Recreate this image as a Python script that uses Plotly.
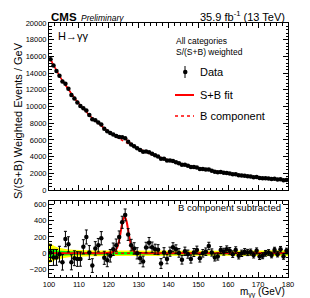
import plotly.graph_objects as go

# ---------------- data ----------------
mass = [100.5 + i for i in range(80)]  # bin centres, 1 GeV bins

bkg = [15650, 14950, 14300, 13680, 13100, 12540, 12010, 11500, 11020, 10560,
       10130, 9720, 9330, 8960, 8610, 8280, 7970, 7670, 7390, 7120,
       6860, 6610, 6380, 6150, 5940, 5740, 5550, 5360, 5180, 5010,
       4850, 4690, 4545, 4396, 4252, 4115, 3982, 3854, 3732, 3614,
       3501, 3393, 3288, 3188, 3090, 2997, 2907, 2820, 2736, 2656,
       2579, 2503, 2431, 2361, 2294, 2229, 2167, 2106, 2048, 1991,
       1936, 1884, 1833, 1784, 1736, 1690, 1645, 1602, 1560, 1519,
       1479, 1441, 1405, 1369, 1335, 1301, 1268, 1237, 1207, 1177]

resid = [10, -50, -50, -10, -110, 175, 110, -110, -60, -70,
         -70, 80, 200, 10, -150, 60, 100, 185, -55, -85,
         -30, 50, 100, 200, 380, 470, 230, 100, 60, 0,
         -60, -100, 70, 130, 75, 50, 45, -125, 10, -70,
         20, 75, 50, 5, -80, 25, -10, -70, 10, 40,
         -60, 0, 20, 90, 10, -50, -40, 40, 20, 50,
         30, -10, 40, -30, 0, 20, 10, 15, -20, 30,
         -40, -30, 0, 10, -20, 40, -10, 50, -40, 30]

err = [100, 98, 97, 96, 95, 94, 93, 92, 91, 90,
       88, 87, 86, 85, 84, 83, 82, 81, 80, 79,
       77, 76, 75, 74, 74, 73, 72, 71, 70, 69,
       67, 66, 65, 64, 63, 62, 61, 60, 59, 58,
       56, 55, 54, 53, 52, 51, 50, 50, 49, 48,
       47, 46, 46, 45, 44, 44, 43, 42, 42, 41,
       41, 40, 40, 39, 39, 38, 38, 37, 37, 36,
       36, 36, 35, 35, 35, 34, 34, 34, 33, 33]

sig_x = [118, 118.5, 119, 119.5, 120, 120.5, 121, 121.5, 122, 122.5, 123, 123.5,
         124, 124.5, 125, 125.5, 126, 126.5, 127, 127.5, 128, 128.5, 129, 129.5,
         130, 131, 132, 134]
sig_y = [2, 3, 4, 5, 7, 9, 12, 18, 30, 50, 88, 160,
         260, 365, 435, 438, 385, 283, 178, 97, 48, 25, 14, 9,
         6, 4, 2, 0]

band_x = [100, 101, 102, 103, 104, 106, 108, 110, 115, 120, 130, 140, 150, 160, 170, 180]
band_1s = [60, 50, 42, 35, 30, 25, 21, 19, 17, 16, 15, 15, 15, 15, 16, 18]
band_2s = [125, 102, 85, 72, 62, 50, 43, 39, 35, 33, 31, 31, 31, 31, 33, 37]

top_yticks = [0, 2000, 4000, 6000, 8000, 10000, 12000, 14000, 16000, 18000, 20000]
bot_yticks = [-200, 0, 200, 400, 600]
xticks = [100, 110, 120, 130, 140, 150, 160, 170, 180]

# ---------------- derived ----------------
data_top = [b + r for b, r in zip(bkg, resid)]
sig_map = dict(zip(sig_x, sig_y))
sb_top = [b + sig_map.get(m, 0) for m, b in zip(mass, bkg)]
sub_x = [100] + sig_x + [180]
sub_y = [0] + sig_y + [0]

FONT = "Liberation Sans, Arial, Helvetica, sans-serif"
RED = "#ff0000"

fig = go.Figure()

# top panel
fig.add_trace(go.Scatter(x=mass, y=bkg, mode="lines",
                         line=dict(color=RED, width=1.5, dash="dot"),
                         xaxis="x", yaxis="y", showlegend=False))
fig.add_trace(go.Scatter(x=mass, y=sb_top, mode="lines",
                         line=dict(color=RED, width=1.5),
                         xaxis="x", yaxis="y", showlegend=False))
fig.add_trace(go.Scatter(x=mass, y=data_top, mode="markers",
                         marker=dict(color="black", size=4.5),
                         error_y=dict(type="data", array=err, color="black",
                                      thickness=1, width=0),
                         xaxis="x", yaxis="y", showlegend=False))

# bottom panel bands
fig.add_trace(go.Scatter(x=band_x, y=band_2s, mode="lines", line=dict(width=0),
                         xaxis="x2", yaxis="y2", showlegend=False))
fig.add_trace(go.Scatter(x=band_x, y=[-v for v in band_2s], mode="lines",
                         line=dict(width=0), fill="tonexty", fillcolor="#ffff00",
                         xaxis="x2", yaxis="y2", showlegend=False))
fig.add_trace(go.Scatter(x=band_x, y=band_1s, mode="lines", line=dict(width=0),
                         xaxis="x2", yaxis="y2", showlegend=False))
fig.add_trace(go.Scatter(x=band_x, y=[-v for v in band_1s], mode="lines",
                         line=dict(width=0), fill="tonexty", fillcolor="#00ff00",
                         xaxis="x2", yaxis="y2", showlegend=False))
fig.add_trace(go.Scatter(x=[100, 180], y=[0, 0], mode="lines",
                         line=dict(color=RED, width=1.5, dash="dot"),
                         xaxis="x2", yaxis="y2", showlegend=False))
fig.add_trace(go.Scatter(x=sub_x, y=sub_y, mode="lines",
                         line=dict(color=RED, width=2, shape="spline"),
                         xaxis="x2", yaxis="y2", showlegend=False))
fig.add_trace(go.Scatter(x=mass, y=resid, mode="markers",
                         marker=dict(color="black", size=4.5),
                         error_y=dict(type="data", array=err, color="black",
                                      thickness=1, width=1.5),
                         xaxis="x2", yaxis="y2", showlegend=False))

axis_common = dict(showline=True, linecolor="black", linewidth=1, mirror="ticks",
                   ticks="inside", tickcolor="black", showgrid=False, zeroline=False,
                   tickfont=dict(family=FONT, size=7.5, color="black"))

fig.update_layout(
    width=310, height=298,
    margin=dict(l=41, r=30, t=15, b=29),
    paper_bgcolor="white", plot_bgcolor="white",
    font=dict(family=FONT, color="black"),
    showlegend=False,
    xaxis=dict(domain=[0, 1], range=[100, 180], anchor="y", tickvals=xticks,
               showticklabels=False, ticklen=5,
               minor=dict(dtick=2, ticklen=2.5, ticks="inside", tickcolor="black"),
               **axis_common),
    yaxis=dict(domain=[0.3425, 1], range=[0, 20000], anchor="x", tickvals=top_yticks,
               tickformat="d", ticklen=5,
               minor=dict(dtick=400, ticklen=2.5, ticks="inside", tickcolor="black"),
               **axis_common),
    xaxis2=dict(domain=[0, 1], range=[100, 180], anchor="y2", tickvals=xticks,
                ticklen=5,
                minor=dict(dtick=2, ticklen=2.5, ticks="inside", tickcolor="black"),
                **axis_common),
    yaxis2=dict(domain=[0, 0.299], range=[-290, 640], anchor="x2", tickvals=bot_yticks,
                ticklen=5,
                minor=dict(dtick=50, ticklen=2.5, ticks="inside", tickcolor="black"),
                **axis_common),
)

W, H, L, T = 239.0, 254.0, 41.0, 15.0
def px(x):
    return (x - L) / W
def py(y):
    return (T + H - y) / H

def txt(x, y, s, size, xanchor="left", yanchor="middle", **kw):
    fig.add_annotation(x=px(x), y=py(y), xref="paper", yref="paper", text=s,
                       showarrow=False, xanchor=xanchor, yanchor=yanchor,
                       font=dict(family=FONT, size=size, color="black"), **kw)

txt(41, 9, "<b>CMS</b>", 11.5)
txt(71, 10, "<i>Preliminary</i>", 8.5)
txt(279, 8, "35.9 fb<sup>-1</sup> (13 TeV)", 11, xanchor="right")
txt(48, 28, "H→γγ", 11)
txt(166, 33, "All categories", 8.5)
txt(166, 44, "S/(S+B) weighted", 8.5)
txt(190, 64, "Data", 11)
txt(190, 87, "S+B fit", 11)
txt(190, 108, "B component", 11)
txt(275, 199, "B component subtracted", 9.5, xanchor="right")
txt(279, 284.5, "m<sub>γγ</sub> (GeV)", 10, xanchor="right")
fig.add_annotation(x=px(10), y=py(113), xref="paper", yref="paper",
                   text="S/(S+B) Weighted Events / GeV", textangle=-90,
                   showarrow=False, xanchor="center", yanchor="middle",
                   font=dict(family=FONT, size=11, color="black"))

# legend symbols
fig.add_shape(type="line", xref="paper", yref="paper", x0=px(177), x1=px(177),
              y0=py(58), y1=py(70), line=dict(color="black", width=1))
fig.add_shape(type="circle", xref="paper", yref="paper", x0=px(175), x1=px(179.5),
              y0=py(66.3), y1=py(61.7), line=dict(color="black", width=0),
              fillcolor="black")
fig.add_shape(type="line", xref="paper", yref="paper", x0=px(167), x1=px(186),
              y0=py(87), y1=py(87), line=dict(color=RED, width=2))
fig.add_shape(type="line", xref="paper", yref="paper", x0=px(167), x1=px(186),
              y0=py(108), y1=py(108), line=dict(color=RED, width=1.5, dash="dot"))

fig.write_html("out.html")
